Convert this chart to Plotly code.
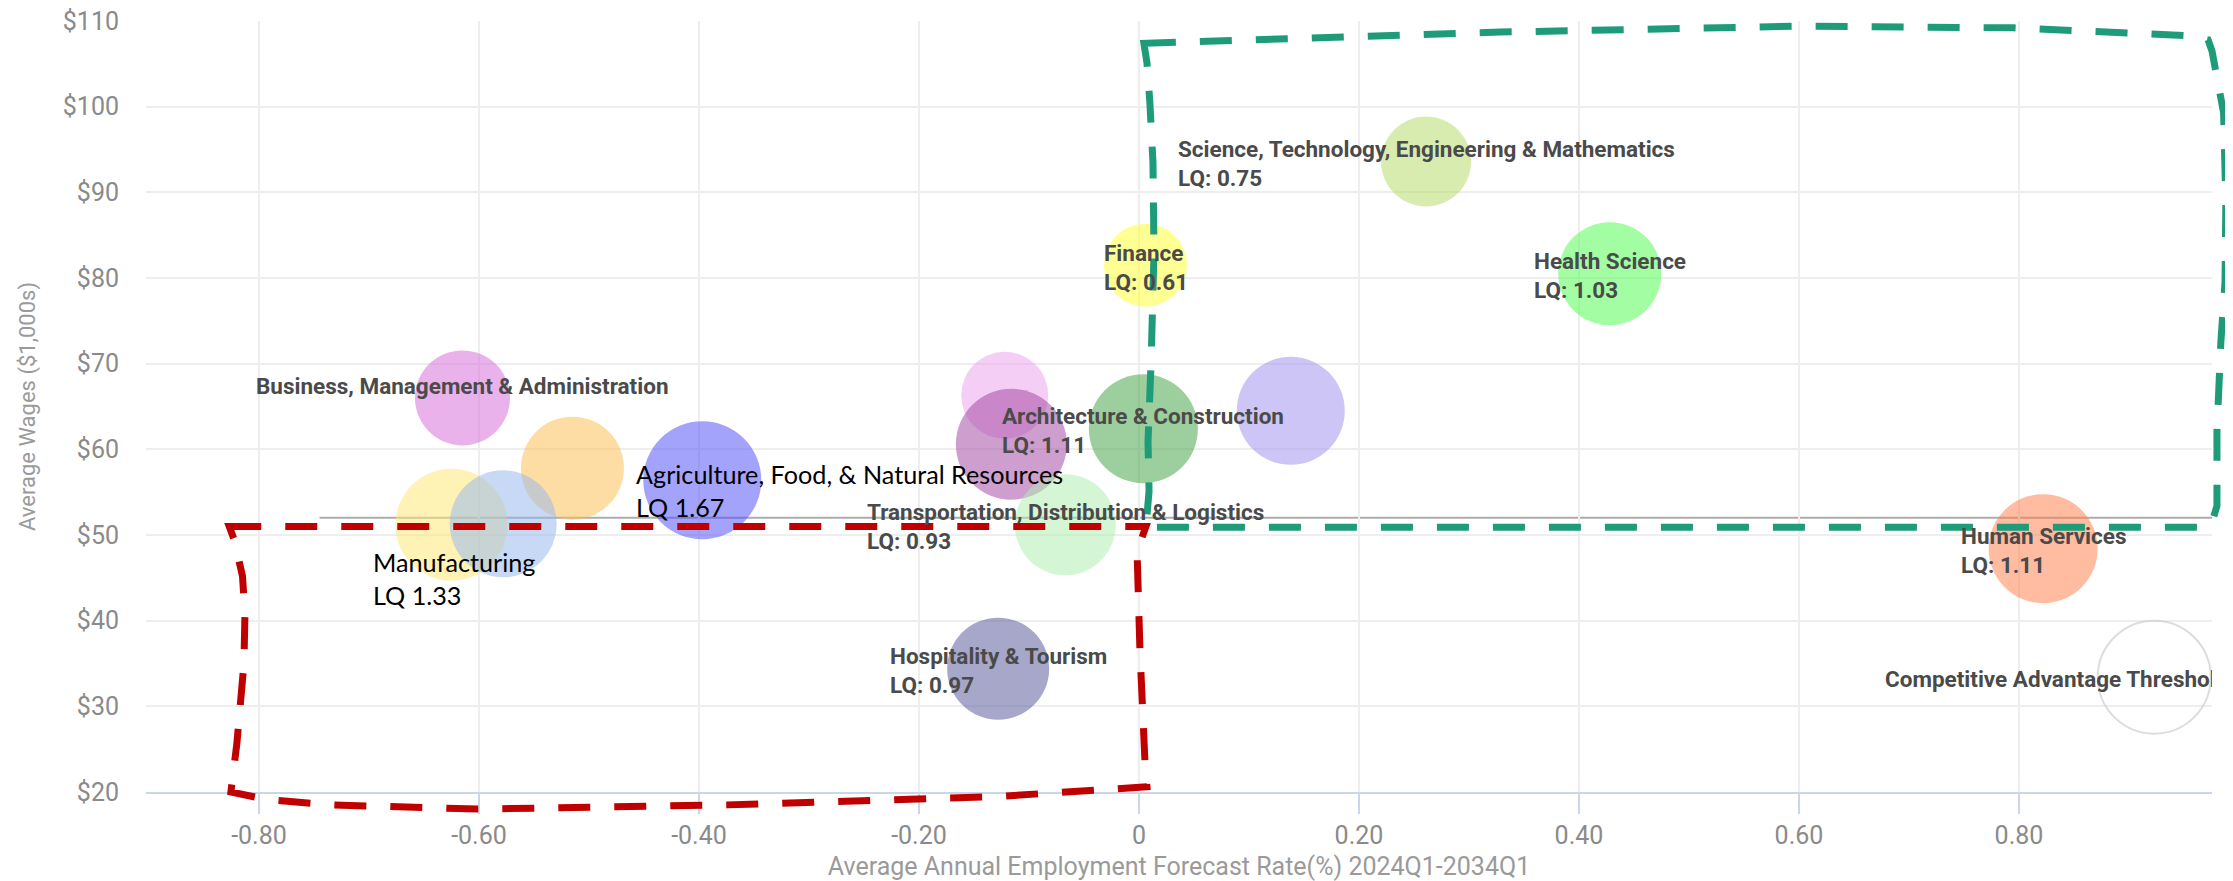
import plotly.graph_objects as go

# career clusters: employment forecast rate (%), average wage ($1,000s), bubble size, location quotient
names = [
    "Business, Management & Administration", "", "Manufacturing", "",
    "Agriculture, Food, & Natural Resources", "", "", "Finance",
    "Architecture & Construction", "", "Science, Technology, Engineering & Mathematics",
    "Transportation, Distribution & Logistics", "Hospitality & Tourism", "Health Science",
    "Human Services", "Competitive Advantage Threshold",
]
growth = [-0.615, -0.515, -0.625, -0.578, -0.397, -0.122, -0.116, 0.006,
          0.004, 0.138, 0.261, -0.067, -0.128, 0.428, 0.822, 0.923]
wages = [66.0, 57.8, 51.2, 51.3, 56.4, 66.3, 60.6, 81.5,
         62.4, 64.5, 93.6, 51.2, 34.4, 80.5, 48.4, 33.4]
bubble = [95, 103, 112, 107, 118, 87, 111, 83,
          109, 108, 90, 101, 102, 103, 109, 113]
lq = [None, None, 1.33, None, 1.67, None, None, 0.61,
      1.11, None, 0.75, 0.93, 0.97, 1.03, 1.11, None]

x_ticks = [-0.8, -0.6, -0.4, -0.2, 0, 0.2, 0.4, 0.6, 0.8]
x_ticktext = ["-0.80", "-0.60", "-0.40", "-0.20", "0", "0.20", "0.40", "0.60", "0.80"]
y_ticks = [20, 30, 40, 50, 60, 70, 80, 90, 100, 110]

wage_threshold = 52.0
growth_threshold = 0

# styling
fills = [
    "rgba(215,108,215,0.75)", "rgba(252,191,82,0.75)", "rgba(255,230,115,0.75)",
    "rgba(150,182,238,0.75)", "rgba(80,80,248,0.75)", "rgba(235,162,235,0.75)",
    "rgba(162,70,162,0.75)", "rgba(255,255,51,0.75)", "rgba(68,162,68,0.75)",
    "rgba(158,144,238,0.75)", "rgba(182,219,102,0.75)", "rgba(175,238,175,0.75)",
    "rgba(88,88,155,0.75)", "rgba(80,251,80,0.75)", "rgba(255,128,75,0.75)",
    "rgba(255,255,255,0)",
]
edge_colors = ["rgba(0,0,0,0)"] * 15 + ["#cfcfcf"]
edge_widths = [0] * 15 + [2]

label_font = dict(family="Roboto", size=22.5, color="#4a4a4a", weight="bold")
callout_font = dict(family="Lato", size=25.2, color="#000000")
callouts = {"Manufacturing": (-80, -54), "Agriculture, Food, & Natural Resources": (-68, -10)}

X_RANGE = [-0.9027, 0.9755]
Y_RANGE = [20, 110]

fig = go.Figure()
fig.add_trace(go.Scatter(
    x=growth, y=wages, mode="markers",
    marker=dict(size=bubble, sizemode="diameter", color=fills,
                line=dict(color=edge_colors, width=edge_widths)),
    hovertext=names, hoverinfo="text", showlegend=False,
))

annotations = []
for name, gx, wy, q in zip(names, growth, wages, lq):
    if not name:
        continue
    if name in callouts:
        dx, dy = callouts[name]
        annotations.append(dict(
            x=gx, y=wy, xref="x", yref="y", text=f"{name}<br>LQ {q:.2f}",
            showarrow=False, xanchor="left", yanchor="middle", align="left",
            xshift=dx, yshift=dy, font=callout_font))
    elif name == "Competitive Advantage Threshold":
        # label runs past the plot edge and is cut there
        annotations.append(dict(
            x=gx, y=wy, xref="x", yref="y", text=name, showarrow=False,
            xanchor="left", yanchor="middle", align="left", xshift=-271, yshift=-2,
            width=327, font=label_font))
    else:
        text = name if q is None else f"{name}<br>LQ: {q:.2f}"
        annotations.append(dict(
            x=gx, y=wy, xref="x", yref="y", text=text, showarrow=False,
            xanchor="center", yanchor="middle", align="left",
            yshift=12 if q is None else -2, font=label_font))


def to_paper(pts):
    sx = X_RANGE[1] - X_RANGE[0]
    sy = Y_RANGE[1] - Y_RANGE[0]
    return "M " + " L ".join(
        f"{(x - X_RANGE[0]) / sx:.4f},{(y - Y_RANGE[0]) / sy:.4f}" for x, y in pts) + " Z"


# hand-drawn highlight boxes
red_box = [(-0.827, 51.0), (-0.399, 51.0), (0.0064, 51.0), (-0.0018, 48.1), (0.0009, 36.5),
           (0.0055, 23.7), (0.0073, 20.6), (-0.126, 19.5), (-0.3745, 18.5), (-0.601, 18.0),
           (-0.735, 18.5), (-0.792, 19.1), (-0.8255, 20.0), (-0.820, 25.7), (-0.8136, 35.0),
           (-0.8127, 40.8), (-0.815, 45.2), (-0.8227, 49.5)]
green_box = [(0.0045, 107.4), (0.328, 108.7), (0.601, 109.4), (0.795, 109.2), (0.950, 108.3),
             (0.972, 107.8), (0.9755, 106.5), (0.986, 99.3), (0.988, 88.8), (0.9873, 79.5),
             (0.9836, 72.6), (0.980, 62.1), (0.980, 53.4), (0.977, 52.1), (0.9727, 50.9),
             (0.0064, 50.9), (0.0091, 55.1), (0.0082, 60.9), (0.011, 70.2), (0.0136, 83.0),
             (0.0127, 93.5), (0.010, 100.5), (0.0073, 105.1)]

shapes = [
    dict(type="line", xref="x", yref="y", x0=growth_threshold, x1=growth_threshold,
         y0=Y_RANGE[0], y1=Y_RANGE[1], line=dict(color="#a8a8a8", width=2), layer="below"),
    dict(type="line", xref="x", yref="y", x0=-0.745, x1=X_RANGE[1],
         y0=wage_threshold, y1=wage_threshold, line=dict(color="#acacac", width=2), layer="below"),
    dict(type="path", xref="paper", yref="paper", path=to_paper(red_box),
         line=dict(color="#c00000", width=7, dash="32px,24px"), layer="above"),
    dict(type="path", xref="paper", yref="paper", path=to_paper(green_box),
         line=dict(color="#1e9b78", width=7, dash="32px,24px"), layer="above"),
]

# page body adds an 8px margin top/left, so the figure is shifted by that much
fig.update_layout(
    width=2225, height=873,
    margin=dict(l=138, r=21, t=13, b=89),
    paper_bgcolor="white", plot_bgcolor="white",
    font=dict(family="Roboto", color="#8a8a8a"),
    annotations=annotations, shapes=shapes,
)
fig.update_xaxes(
    range=X_RANGE, tickvals=x_ticks, ticktext=x_ticktext, automargin=False,
    showgrid=True, gridcolor="#eeeeee", gridwidth=2, zeroline=False,
    showline=True, linecolor="#ccd6eb", linewidth=2,
    ticks="outside", ticklen=20, tickcolor="#ccd6eb", tickwidth=2,
    tickfont=dict(size=25, color="#8a8a8a"), ticklabeloverflow="allow",
    title=dict(text="Average Annual Employment Forecast Rate(%) 2024Q1-2034Q1",
               font=dict(size=25, color="#9a9a9a"), standoff=10),
)
fig.update_yaxes(
    range=Y_RANGE, tickvals=y_ticks, ticktext=[f"${v}" for v in y_ticks], automargin=False,
    showgrid=True, gridcolor="#eeeeee", gridwidth=2, zeroline=False, showline=False,
    tickfont=dict(size=25, color="#8a8a8a"), ticklabelstandoff=26, ticklabeloverflow="allow",
    title=dict(text="Average Wages ($1,000s)", font=dict(size=22, color="#9a9a9a"), standoff=21),
)

fig.write_html("out.html")
